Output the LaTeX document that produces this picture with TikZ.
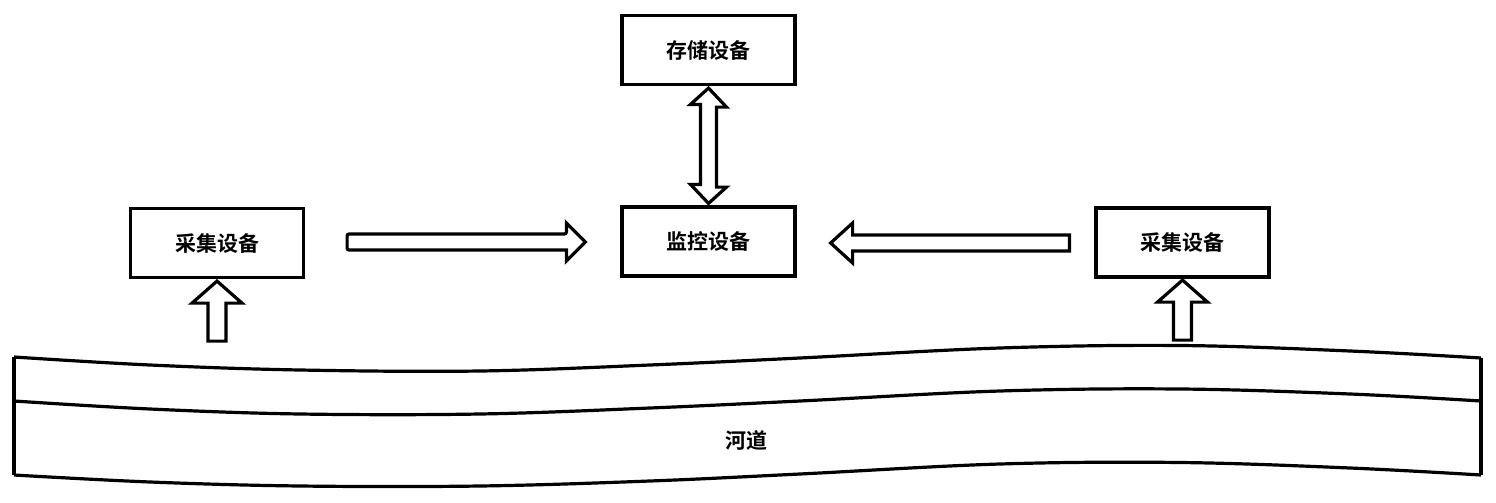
\documentclass[tikz,border=0pt]{standalone}
\usepackage{fontspec}
\newfontfamily\cjk{Noto Sans CJK SC}[BoldFont={Noto Sans CJK SC Bold}]
\usetikzlibrary{calc}
\begin{document}
\begin{tikzpicture}[x=1pt,y=-1pt,
  box/.style={draw,line width=3.2pt,minimum width=173pt,minimum height=69pt,inner sep=0pt,font=\cjk\bfseries\fontsize{21}{24}\selectfont},
  blockarrow/.style={draw,line width=3.2pt,line join=miter,fill=white},
  bank/.style={line width=3.2pt}]
\useasboundingbox (0,0) rectangle (1496,503);
% boxes
\node[box] (store) at (708.5,50) {存储设备};
\node[box] (mon) at (708.5,241.5) {监控设备};
\node[box] (colL) at (217,243) {采集设备};
\node[box] (colR) at (1182.5,242.5) {采集设备};
% double arrow storage <-> monitor
\draw[blockarrow] ($(store.south)+(0,2)$) -- ++(18,19) -- ++(-10,0) -- ++(0,80) -- ++(10,0)
  -- ($(mon.north)+(0,-2)$) -- ++(-18,-19) -- ++(10,0) -- ++(0,-80) -- ++(-10,0) -- cycle;
% right arrow colL -> mon
\coordinate (rA) at ($(colL.east)+(42,-1)$);
\coordinate (rT) at ($(mon.west)+(-35,0.5)$);
\draw[blockarrow,rounded corners=2pt] (rA) ++(0,-8) -- ($(rT)+(-19,-8)$) [sharp corners] -- ($(rT)+(-19,-19)$) -- (rT)
  -- ($(rT)+(-19,19)$) -- ($(rT)+(-19,8)$) [rounded corners=2pt] -- ($(rA)+(0,8)$) -- cycle;
% left arrow colR -> mon
\coordinate (lA) at ($(colR.west)+(-25,0.5)$);
\coordinate (lT) at ($(mon.east)+(34,1.5)$);
\draw[blockarrow] (lA) ++(0,-8) -- ($(lT)+(22,-8)$) -- ($(lT)+(22,-20)$) -- (lT)
  -- ($(lT)+(22,20)$) -- ($(lT)+(22,8)$) -- ($(lA)+(0,8)$) -- cycle;
% up arrows
\coordinate (uL) at ($(colL.south)+(0,2)$);
\draw[blockarrow] (uL) -- ++(25,22) -- ++(-16,0) -- ++(0,38) -- ++(-18,0) -- ++(0,-38) -- ++(-16,0) -- cycle;
\coordinate (uR) at ($(colR.south)+(0,1.5)$);
\draw[blockarrow] (uR) -- ++(25,22) -- ++(-16,0) -- ++(0,38) -- ++(-18,0) -- ++(0,-38) -- ++(-16,0) -- cycle;
% river
\draw[bank] plot[smooth,tension=0.6] coordinates {(14,357) (150,365) (300,370) (480,371) (650,365) (800,358) (1000,348) (1180,345.5) (1350,351) (1481,358)};
\draw[bank] plot[smooth,tension=0.6] coordinates {(14,401) (150,409) (300,414) (480,414) (650,408) (800,401) (1000,391) (1180,389) (1350,394) (1481,401)};
\draw[bank] plot[smooth,tension=0.6] coordinates {(14,475) (150,482) (300,486) (480,486) (650,481) (800,474) (1000,464) (1180,462.5) (1350,468) (1481,475)};
\draw[bank] (14,357) -- (14,475);
\draw[bank] (1481,358) -- (1481,475);
\node[font=\cjk\bfseries\fontsize{21}{24}\selectfont] (river) at (746,440) {河道};
\end{tikzpicture}
\end{document}
